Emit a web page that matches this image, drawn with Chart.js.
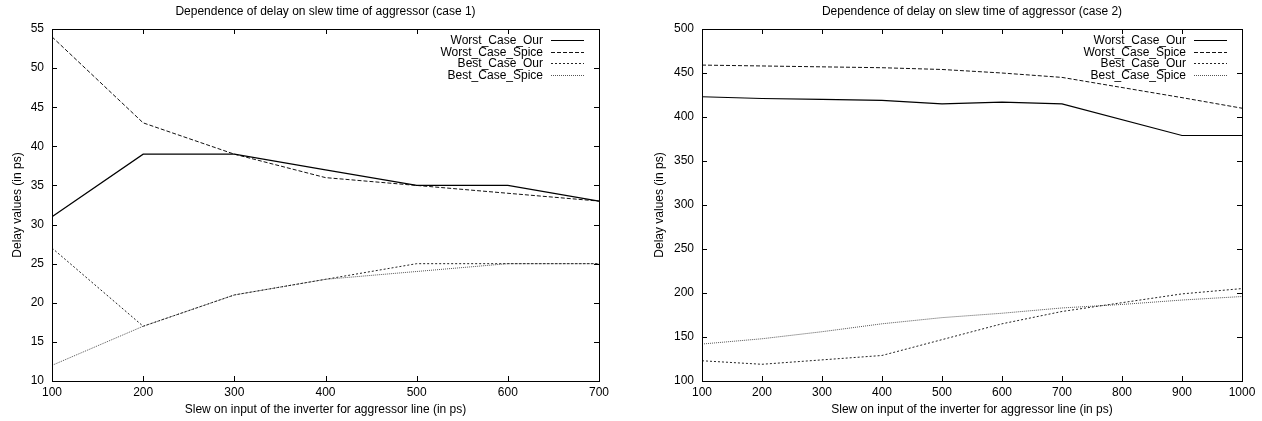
<!DOCTYPE html>
<html>
<head>
<meta charset="utf-8">
<script src="https://cdn.jsdelivr.net/npm/chart.js@4.4.1/dist/chart.umd.min.js"></script>
<style>
  html, body { margin: 0; padding: 0; background: #fff; }
  #wrap { position: relative; width: 1262px; height: 421px; }
  canvas { position: absolute; top: 0; }
</style>
</head>
<body>
<div id="wrap">
  <canvas id="case1" width="631" height="421" style="left:0"></canvas>
  <canvas id="case2" width="631" height="421" style="left:631px"></canvas>
</div>
<script>
// case 1 data (slew in ps -> delay in ps)
const slew1 = [100, 200, 300, 400, 500, 600, 700];
const worstOur1 = [31, 39, 39, 37, 35, 35, 33];
const worstSpice1 = [54, 43, 39, 36, 35, 34, 33];
const bestOur1 = [27, 17, 21, 23, 25, 25, 25];
const bestSpice1 = [12, 17, 21, 23, 24, 25, 25];

// case 2 data, null = no sample at that slew
const slew2 = [100, 200, 300, 400, 500, 600, 700, 800, 900, 1000];
const worstOur2 = [423, 421, 420, 419, 415, 417, 415, null, 379, 379];
const worstSpice2 = [459, 458, 457, 456, 454, 450, 445, null, 422, 410];
const bestOur2 = [123, 119, 124, 129, 147, 165, 179, 189, 199, 205];
const bestSpice2 = [142, 148, 156, 165, 172, 177, 183, 187, 192, 196];

const seriesNames = ['Worst_Case_Our', 'Worst_Case_Spice', 'Best_Case_Our', 'Best_Case_Spice'];

const FONT = "'Liberation Sans', Arial, Helvetica, sans-serif";
Chart.defaults.font.family = FONT;
Chart.defaults.font.size = 12;
Chart.defaults.color = '#000';

const styles = [
  { borderColor: '#000', borderWidth: 1.2, borderDash: [] },
  { borderColor: '#111', borderWidth: 1, borderDash: [4, 2] },
  { borderColor: '#222', borderWidth: 1, borderDash: [2, 2] },
  { borderColor: '#555', borderWidth: 1, borderDash: [1, 1] }
];

// gnuplot-like frame, inward ticks and legend inside the plot
const framePlugin = {
  id: 'frame',
  afterDatasetsDraw(chart) {
    const { ctx, chartArea: a, scales } = chart;
    ctx.save();
    ctx.strokeStyle = '#000';
    ctx.lineWidth = 1;
    ctx.setLineDash([]);
    ctx.strokeRect(Math.round(a.left) + 0.5, Math.round(a.top) + 0.5,
      Math.round(a.right - a.left), Math.round(a.bottom - a.top));
    const len = 5;
    ctx.beginPath();
    scales.x.ticks.forEach(t => {
      const px = Math.round(scales.x.getPixelForValue(t.value)) + 0.5;
      ctx.moveTo(px, a.bottom); ctx.lineTo(px, a.bottom - len);
      ctx.moveTo(px, a.top); ctx.lineTo(px, a.top + len);
    });
    scales.y.ticks.forEach(t => {
      const py = Math.round(scales.y.getPixelForValue(t.value)) + 0.5;
      ctx.moveTo(a.left, py); ctx.lineTo(a.left + len, py);
      ctx.moveTo(a.right, py); ctx.lineTo(a.right - len, py);
    });
    ctx.stroke();

    // legend
    ctx.font = '12px ' + FONT;
    ctx.fillStyle = '#000';
    ctx.textAlign = 'right';
    ctx.textBaseline = 'middle';
    chart.data.datasets.forEach((ds, i) => {
      const y = Math.round(a.top + 11 + i * 11.7) + 0.5;
      ctx.fillText(ds.label, a.right - 56, y);
      ctx.strokeStyle = ds.borderColor;
      ctx.lineWidth = ds.borderWidth;
      ctx.setLineDash(ds.borderDash);
      ctx.beginPath();
      ctx.moveTo(a.right - 48, y);
      ctx.lineTo(a.right - 15, y);
      ctx.stroke();
    });
    ctx.restore();
  }
};

function makeChart(id, title, xs, series, yMin, yMax, yStep, yWidth, yTitlePad, padRight) {
  const datasets = series.map((vals, i) => ({
    label: seriesNames[i],
    data: xs.map((x, j) => ({ x: x, y: vals[j] })),
    borderColor: styles[i].borderColor,
    borderWidth: styles[i].borderWidth,
    borderDash: styles[i].borderDash,
    pointRadius: 0,
    tension: 0,
    fill: false,
    spanGaps: true
  }));

  return new Chart(document.getElementById(id), {
    type: 'line',
    data: { datasets },
    options: {
      responsive: false,
      animation: false,
      devicePixelRatio: 1,
      layout: { padding: { left: 0, right: padRight, top: 0, bottom: 0 } },
      plugins: {
        legend: { display: false },
        tooltip: { enabled: false },
        title: {
          display: true,
          text: title,
          fullSize: false,
          color: '#000',
          font: { size: 12, weight: 'normal' },
          padding: { top: 4.8, bottom: 9.8 }
        }
      },
      scales: {
        x: {
          type: 'linear',
          min: xs[0],
          max: xs[xs.length - 1],
          grid: { display: false, drawTicks: false },
          border: { display: false },
          ticks: {
            stepSize: 100, autoSkip: false, maxRotation: 0, padding: 4.8, color: '#000',
            callback: v => String(v)
          },
          title: {
            display: true,
            text: 'Slew on input of the inverter for aggressor line (in ps)',
            color: '#000',
            padding: { top: 0, bottom: 3.8 }
          },
          afterFit: s => { s.height = 40; }
        },
        y: {
          min: yMin,
          max: yMax,
          grid: { display: false, drawTicks: false },
          border: { display: false },
          ticks: { stepSize: yStep, padding: 8, color: '#000', callback: v => String(v) },
          title: {
            display: true,
            text: 'Delay values (in ps)',
            color: '#000',
            padding: { top: yTitlePad, bottom: 0 }
          },
          afterFit: s => { s.width = yWidth; }
        }
      }
    },
    plugins: [framePlugin]
  });
}

makeChart('case1', 'Dependence of delay on slew time of aggressor (case 1)', slew1,
  [worstOur1, worstSpice1, bestOur1, bestSpice1], 10, 55, 5, 52, 10.8, 32);
makeChart('case2', 'Dependence of delay on slew time of aggressor (case 2)', slew2,
  [worstOur2, worstSpice2, bestOur2, bestSpice2], 100, 500, 50, 71, 21.3, 20);
</script>
</body>
</html>
